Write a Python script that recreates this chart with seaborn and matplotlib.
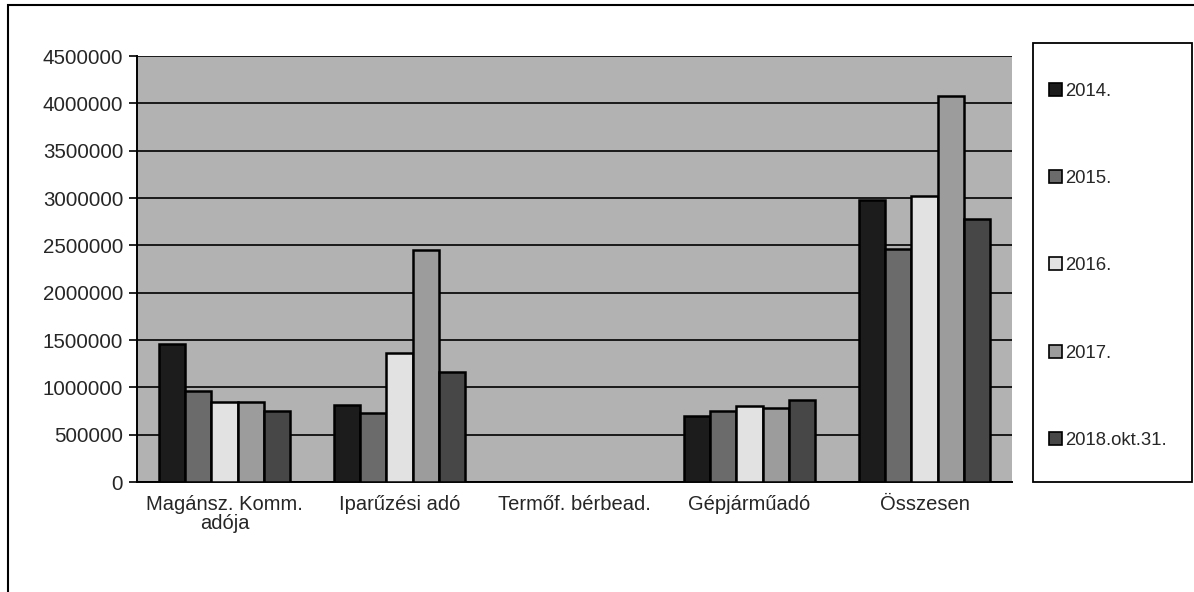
import pandas as pd
import matplotlib.pyplot as plt
import seaborn as sns
import numpy as np
from matplotlib.patches import Patch, Rectangle

# adatok (leolvasva az abrarol)
categories = ['Magánsz. Komm.\nadója', 'Iparűzési adó', 'Termőf. bérbead.', 'Gépjárműadó', 'Összesen']
years = ['2014.', '2015.', '2016.', '2017.', '2018.okt.31.']
v2014 = [1460000, 810000, 0, 700000, 2980000]
v2015 = [960000, 730000, 0, 755000, 2460000]
v2016 = [850000, 1360000, 0, 805000, 3025000]
v2017 = [850000, 2450000, 0, 780000, 4080000]
v2018 = [750000, 1165000, 0, 865000, 2780000]
colors = ['#1c1c1c', '#6b6b6b', '#e2e2e2', '#9c9c9c', '#474747']

df = pd.DataFrame({
    'kategoria': categories * 5,
    'ev': np.repeat(years, len(categories)),
    'ertek': v2014 + v2015 + v2016 + v2017 + v2018,
})

sns.set_style('white')
plt.rcParams['font.family'] = ['Liberation Sans', 'DejaVu Sans']

fig = plt.figure(figsize=(11.94, 5.92), dpi=100)
ax = fig.add_axes([137 / 1194, 1 - 482 / 592, 875 / 1194, 426 / 592])
ax.set_facecolor('#b2b2b2')

sns.barplot(data=df, x='kategoria', y='ertek', hue='ev', palette=colors,
            edgecolor='black', linewidth=1.8, width=0.75, saturation=1,
            legend=False, ax=ax, zorder=3)

ax.set_ylim(0, 4500000)
ax.set_yticks(np.arange(0, 4500001, 500000))
ax.set_yticklabels([str(v) for v in range(0, 4500001, 500000)], fontsize=14.8)
ax.yaxis.grid(True, color='black', linewidth=1.2, zorder=0)
ax.set_axisbelow(True)

ax.set_xlim(-0.5, len(categories) - 0.5)
ax.set_xticks(range(len(categories)))
ax.set_xticklabels(categories, fontsize=14.5, linespacing=1.05)
ax.set_xticks(np.arange(-0.5, len(categories)), minor=True)
ax.tick_params(axis='x', which='major', length=0, pad=9)
ax.tick_params(axis='x', which='minor', length=6, width=1.2, color='black', direction='out')
ax.tick_params(axis='y', length=6, width=1.2, color='black', direction='out', left=True, pad=4)
ax.set_xlabel('')
ax.set_ylabel('')

for s in ['top', 'right']:
    ax.spines[s].set_visible(False)
for s in ['left', 'bottom']:
    ax.spines[s].set_color('black')
    ax.spines[s].set_linewidth(1.4)

# jelmagyarazat kerete kulon
fig.patches.append(Rectangle((1033 / 1194, 1 - 482 / 592), 159 / 1194, 439 / 592,
                             transform=fig.transFigure, fill=False,
                             edgecolor='black', linewidth=1.3))

handles = [Patch(facecolor=c, edgecolor='black', linewidth=1.2) for c in colors]
leg = fig.legend(handles, years, loc='upper left',
                 bbox_to_anchor=(1049 / 1194, 1 - 83 / 592),
                 fontsize=13.3, frameon=False,
                 handlelength=0.7, handleheight=0.7, handletextpad=0.15,
                 labelspacing=3.8, borderpad=0, borderaxespad=0)

# kulso keret
fig.patches.append(Rectangle((8 / 1194, -0.02), 1.02, 1 - 5 / 592 + 0.02,
                             transform=fig.transFigure, fill=False,
                             edgecolor='black', linewidth=1.5))

fig.savefig('out.png', dpi=100)
